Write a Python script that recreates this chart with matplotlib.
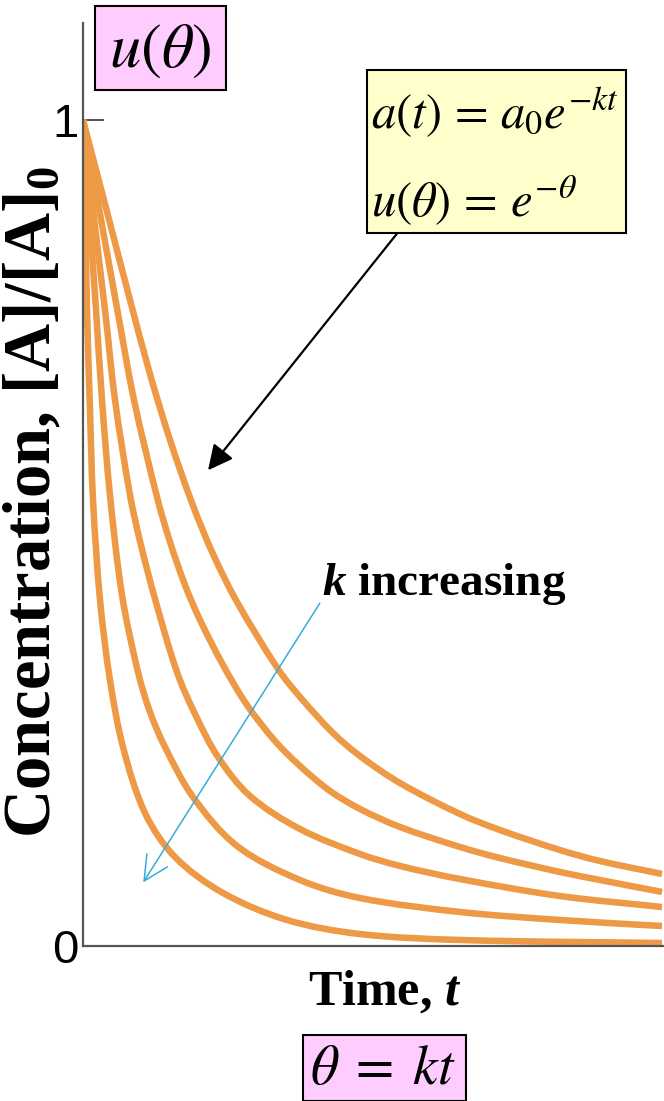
import matplotlib
matplotlib.use('Agg')
import numpy as np
import matplotlib.pyplot as plt
from matplotlib.patches import Rectangle, PathPatch
from matplotlib.path import Path

plt.rcParams['mathtext.fontset'] = 'custom'
plt.rcParams['mathtext.rm'] = 'Liberation Serif:bold'
plt.rcParams['mathtext.bf'] = 'Liberation Serif:bold'
plt.rcParams['mathtext.it'] = 'Liberation Serif:italic:bold'

W, H = 664, 1101

# decay curves (t on 0..1 across the axis, [A]/[A]0), slowest first
t1 = [0, 0.0397, 0.0812, 0.1157, 0.1503, 0.1883, 0.2245, 0.2660, 0.3368, 0.3748, 0.4318, 0.4784,
      0.5475, 0.6511, 0.7202, 0.8238, 0.8929, 1.0]
u1 = [1.0, 0.8935, 0.7821, 0.6925, 0.6126, 0.5363, 0.4746, 0.4165, 0.3354, 0.3015, 0.2579, 0.2300,
      0.1973, 0.1598, 0.1404, 0.1162, 0.1029, 0.0872]

t2 = [0, 0.0294, 0.0587, 0.0881, 0.1278, 0.1503, 0.1762, 0.2021, 0.2418, 0.2832, 0.3316, 0.3748,
      0.4266, 0.4784, 0.5475, 0.6511, 0.7202, 0.8238, 0.8929, 1.0]
u2 = [1.0, 0.8862, 0.7724, 0.6610, 0.5436, 0.4891, 0.4370, 0.3947, 0.3402, 0.2918, 0.2482, 0.2179,
      0.1877, 0.1659, 0.1441, 0.1199, 0.1065, 0.0896, 0.0799, 0.0654]

t3 = [0, 0.0173, 0.0380, 0.0553, 0.0812, 0.0984, 0.1244, 0.1623, 0.1934, 0.2332, 0.2884, 0.3748,
      0.4784, 0.5475, 0.6511, 0.8238, 1.0]
u3 = [1.0, 0.8910, 0.7700, 0.6610, 0.5460, 0.4903, 0.4201, 0.3317, 0.2809, 0.2288, 0.1816, 0.1416,
      0.1114, 0.0969, 0.0811, 0.0605, 0.0472]

t4 = [0, 0.0104, 0.0225, 0.0328, 0.0466, 0.0674, 0.0950, 0.1157, 0.1416, 0.1900, 0.2660, 0.3748,
      0.4784, 0.6511, 0.8238, 1.0]
u4 = [1.0, 0.8910, 0.7700, 0.6610, 0.5460, 0.4249, 0.3317, 0.2833, 0.2409, 0.1804, 0.1211, 0.0799,
      0.0581, 0.0412, 0.0315, 0.0242]

t5 = [0, 0.0035, 0.0069, 0.0121, 0.0173, 0.0294, 0.0466, 0.0691, 0.1071, 0.1589, 0.2418, 0.3523,
      0.4784, 0.6511, 1.0]
u5 = [1.0, 0.8910, 0.7700, 0.6489, 0.5400, 0.4189, 0.3220, 0.2409, 0.1610, 0.1077, 0.0642, 0.0315,
      0.0145, 0.0073, 0.0036]

times = [t1, t2, t3, t4, t5]
values = [u1, u2, u3, u4, u5]
ytick_vals = [0, 1]
ytick_labels = ['0', '1']

curve_color = '#ED9945'


def fx(x):
    return x / W


def fy(y):
    return 1 - y / H


def smooth_path(t, u):
    # smooth line through the read points (cubic Hermite segments, chord-length tangents)
    p = np.column_stack([t, u])
    q = p * [579, 826]
    s = np.concatenate([[0], np.cumsum(np.hypot(*np.diff(q, axis=0).T))])
    n = len(p)
    m = np.zeros_like(p)
    m[0] = (p[1] - p[0]) / (s[1] - s[0])
    m[-1] = (p[-1] - p[-2]) / (s[-1] - s[-2])
    for i in range(1, n - 1):
        m[i] = (p[i + 1] - p[i - 1]) / (s[i + 1] - s[i - 1])
    verts = [p[0]]
    codes = [Path.MOVETO]
    for i in range(n - 1):
        h = s[i + 1] - s[i]
        verts += [p[i] + m[i] * h / 3, p[i + 1] - m[i + 1] * h / 3, p[i + 1]]
        codes += [Path.CURVE4] * 3
    return Path(verts, codes)


fig = plt.figure(figsize=(W / 100, H / 100), dpi=100)
ax = fig.add_axes([fx(83), fy(946), fx(664) - fx(83), fy(23) - fy(946)])

for t, u in zip(times, values):
    ax.add_patch(PathPatch(smooth_path(t, u), fill=False, edgecolor=curve_color, lw=4.7,
                           capstyle='butt', zorder=2))

ax.set_xlim(0, 581 / 579)
ax.set_ylim(0, 923 / 826)
ax.set_xticks([])
ax.set_yticks(ytick_vals)
ax.set_yticklabels(ytick_labels, family='Liberation Sans')
ax.tick_params(axis='y', direction='in', length=15, width=1.2, color='#333333', pad=3, labelsize=34)
for s in ['top', 'right']:
    ax.spines[s].set_visible(False)
for s in ['left', 'bottom']:
    ax.spines[s].set_color('#555555')
    ax.spines[s].set_linewidth(1.6)

# arrows
ax.annotate('', xy=(0.104, 0.077), xytext=(0.409, 0.415),
            arrowprops=dict(arrowstyle='->,head_length=0.7,head_width=0.35', mutation_scale=25,
                            lw=1.1, color='#35ADDB', shrinkA=0, shrinkB=0), zorder=3)
ax.annotate('', xy=(0.216, 0.576), xytext=(0.544, 0.864),
            arrowprops=dict(arrowstyle='-|>', mutation_scale=38, lw=1.6, color='black',
                            shrinkA=0, shrinkB=0), zorder=3)

fig.text(fx(322), fy(595), '$k$ increasing', ha='left', va='baseline', fontsize=34,
         family='Liberation Serif', weight='bold', math_fontfamily='custom')

# boxes
fig.add_artist(Rectangle((fx(95), fy(90)), fx(226) - fx(95), fy(6) - fy(90), transform=fig.transFigure,
                         facecolor='#FFCCFF', edgecolor='black', lw=1.5))
fig.text(fx(160), fy(50), r'$u(\theta)$', ha='center', va='center', fontsize=45, math_fontfamily='stix')

fig.add_artist(Rectangle((fx(367), fy(233)), fx(626) - fx(367), fy(70) - fy(233), transform=fig.transFigure,
                         facecolor='#FFFFCC', edgecolor='black', lw=1.5))
fig.text(fx(371), fy(128), r'$a(t)\,=\,a_0e^{-kt}$', ha='left', va='baseline', fontsize=35,
         math_fontfamily='stix')
fig.text(fx(371), fy(217), r'$u(\theta)\,=\,e^{-\theta}$', ha='left', va='baseline', fontsize=35,
         math_fontfamily='stix')

fig.add_artist(Rectangle((fx(303), fy(1101)), fx(466) - fx(303), fy(1035) - fy(1101), transform=fig.transFigure,
                         facecolor='#FFCCFF', edgecolor='black', lw=1.5))
fig.text(fx(383), fy(1069), r'$\theta\;=\;kt$', ha='center', va='center', fontsize=40, math_fontfamily='stix')

# axis labels
fig.text(fx(385), fy(1005), 'Time, $t$', ha='center', va='baseline', fontsize=36,
         family='Liberation Serif', weight='bold', math_fontfamily='custom')
fig.text(fx(33), fy(502), 'Concentration, [A]/[A]$_{0}$', rotation=90, ha='center', va='center',
         fontsize=48, family='Liberation Serif', weight='bold', math_fontfamily='custom')

fig.savefig('out.png', dpi=100)
